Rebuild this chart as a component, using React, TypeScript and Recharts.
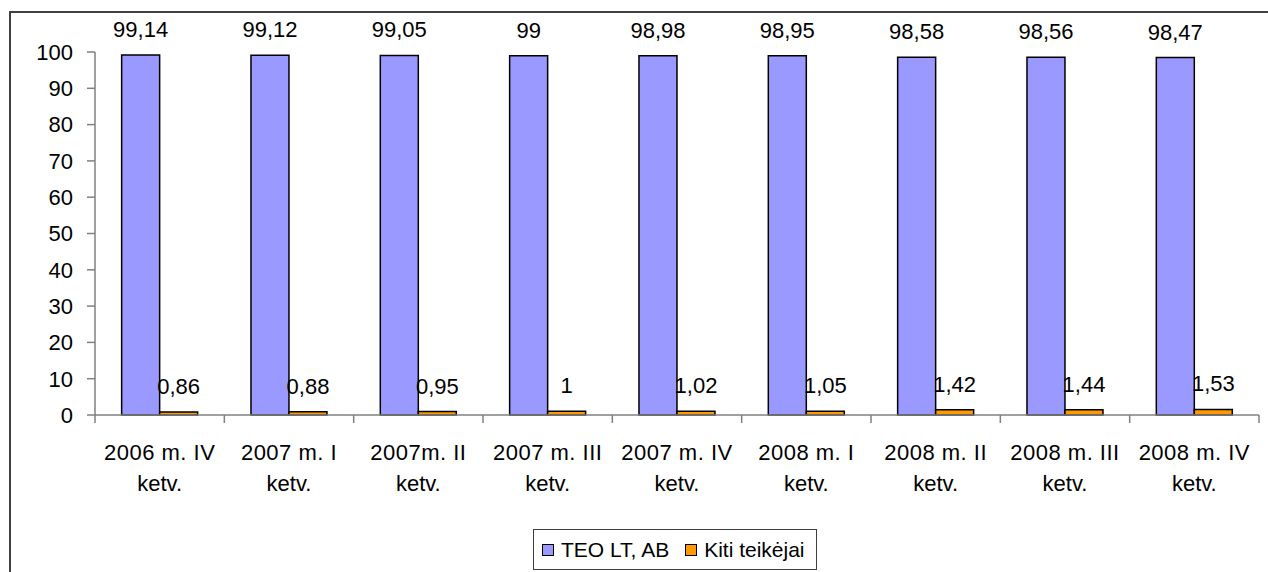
import { BarChart, Bar, XAxis, YAxis, LabelList } from 'recharts';

const quarters = [
  '2006 m. IV ketv.',
  '2007 m. I ketv.',
  '2007m. II ketv.',
  '2007 m. III ketv.',
  '2007 m. IV ketv.',
  '2008 m. I ketv.',
  '2008 m. II ketv.',
  '2008 m. III ketv.',
  '2008 m. IV ketv.',
];
const teo = [99.14, 99.12, 99.05, 99, 98.98, 98.95, 98.58, 98.56, 98.47];
const kiti = [0.86, 0.88, 0.95, 1, 1.02, 1.05, 1.42, 1.44, 1.53];
const yTicks = [0, 10, 20, 30, 40, 50, 60, 70, 80, 90, 100];

const W = 1268;
const H = 572;
const M = { top: 52, right: 9, left: 0, bottom: 0 };
const Y_W = 95;
const X_H = 157;
const FONT = '"Liberation Sans", Arial, sans-serif';

const data = quarters.map((q, i) => ({ q, teo: teo[i], kiti: kiti[i] }));

const fmt = (v: number) => String(v).replace('.', ',');

const band = (W - M.left - M.right - Y_W) / quarters.length;

function QuarterTick(props: any) {
  const { x, y, payload, index } = props;
  const [first] = String(payload.value).split(' ketv.');
  const half = band / 2;
  return (
    <g>
      <line x1={x - half} x2={x - half} y1={y} y2={y + 8} stroke="#808080" strokeWidth={1.5} />
      {index === quarters.length - 1 && (
        <line x1={x + half} x2={x + half} y1={y} y2={y + 8} stroke="#808080" strokeWidth={1.5} />
      )}
      <text x={x} y={y + 45} textAnchor="middle" fontSize={22} fill="#000" fontFamily={FONT} letterSpacing={0.5}>
        {first}
      </text>
      <text x={x} y={y + 76} textAnchor="middle" fontSize={22} fill="#000" fontFamily={FONT}>
        ketv.
      </text>
    </g>
  );
}

function ValueLabel(props: any) {
  const { x, y, width, value } = props;
  return (
    <text x={x + width / 2} y={y - 18} textAnchor="middle" fontSize={22} fill="#000" fontFamily={FONT}>
      {fmt(value)}
    </text>
  );
}

export default function App() {
  return (
    <div style={{ position: 'absolute', left: 0, top: 0, width: W, height: H, overflow: 'hidden', background: '#fff', fontFamily: FONT }}>
      <div
        style={{
          position: 'absolute',
          left: 9,
          top: 11,
          width: W + 40,
          height: H + 40,
          border: '2px solid #404040',
        }}
      />
      <BarChart width={W} height={H} data={data} margin={M} barCategoryGap="20.6%" barGap={0}>
        <XAxis
          dataKey="q"
          height={X_H}
          interval={0}
          tickLine={false}
          tickSize={0}
          tickMargin={0}
          axisLine={{ stroke: '#808080', strokeWidth: 1.5 }}
          tick={<QuarterTick />}
        />
        <YAxis
          width={Y_W}
          domain={[0, 100]}
          ticks={yTicks}
          interval={0}
          tickSize={8}
          tickMargin={14}
          axisLine={{ stroke: '#808080', strokeWidth: 1.5 }}
          tickLine={{ stroke: '#808080', strokeWidth: 1.5 }}
          tick={{ fontSize: 22, fill: '#000', fontFamily: FONT }}
        />
        <Bar dataKey="teo" name="TEO LT, AB" fill="#9999FF" stroke="#000" strokeWidth={1.5} isAnimationActive={false}>
          <LabelList dataKey="teo" content={<ValueLabel />} />
        </Bar>
        <Bar dataKey="kiti" name="Kiti teikėjai" fill="#FF9900" stroke="#000" strokeWidth={1.5} isAnimationActive={false}>
          <LabelList dataKey="kiti" content={<ValueLabel />} />
        </Bar>
      </BarChart>
      <div
        style={{
          position: 'absolute',
          left: 533,
          top: 529,
          width: 284,
          height: 41,
          border: '1px solid #404040',
          display: 'flex',
          alignItems: 'center',
          fontSize: 21,
          color: '#000',
          boxSizing: 'border-box',
        }}
      >
        <span style={{ display: 'inline-block', width: 10, height: 10, background: '#9999FF', border: '1.5px solid #000', marginLeft: 8, marginRight: 7 }} />
        <span>TEO LT, AB</span>
        <span style={{ display: 'inline-block', width: 10, height: 10, background: '#FF9900', border: '1.5px solid #000', marginLeft: 16, marginRight: 7 }} />
        <span>Kiti teikėjai</span>
      </div>
    </div>
  );
}
